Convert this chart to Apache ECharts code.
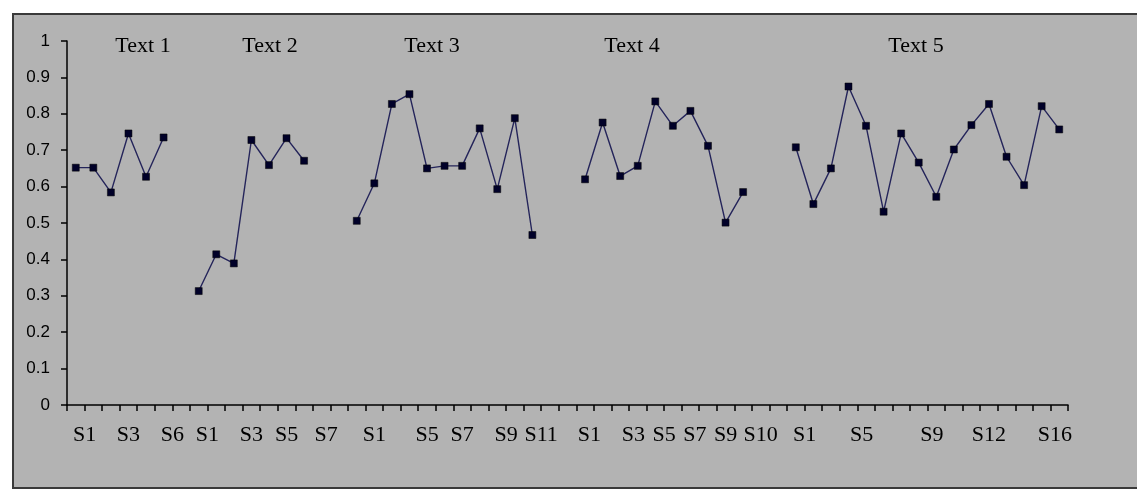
<!DOCTYPE html>
<html>
<head>
<meta charset="utf-8">
<script src="https://cdn.jsdelivr.net/npm/echarts@6/dist/echarts.min.js"></script>
<style>
  html, body { margin: 0; padding: 0; background: #ffffff; }
  #wrap { position: relative; width: 1137px; height: 491px; overflow: hidden; }
  #frame { position: absolute; left: 12px; top: 13px; width: 1124px; height: 472px;
           background: #b3b3b3; border-top: 2px solid #3a3a3a; border-left: 2px solid #3a3a3a;
           border-bottom: 2px solid #3a3a3a; }
  #chart { position: absolute; left: 0; top: 0; width: 1137px; height: 491px; }
</style>
</head>
<body>
<div id="wrap">
  <div id="frame"></div>
  <div id="chart"></div>
</div>
<script>
// ---- data ----
const groupTitles = ['Text 1', 'Text 2', 'Text 3', 'Text 4', 'Text 5'];
const text1 = [0.652, 0.652, 0.584, 0.746, 0.627, 0.735];
const text2 = [0.313, 0.414, 0.389, 0.728, 0.659, 0.733, 0.671];
const text3 = [0.506, 0.609, 0.827, 0.854, 0.650, 0.657, 0.657, 0.760, 0.593, 0.788, 0.467];
const text4 = [0.620, 0.776, 0.629, 0.657, 0.834, 0.767, 0.808, 0.712, 0.501, 0.585];
const text5 = [0.708, 0.552, 0.650, 0.875, 0.767, 0.531, 0.746, 0.666, 0.572, 0.702, 0.769, 0.827, 0.682, 0.604, 0.821, 0.757];
const blankAfter = [1, 2, 2, 2, 0];          // empty categories after each group
// x tick labels as printed, and where they sit along the category axis (in category units)
const tickLabels   = ['S1','S3','S6','S1','S3','S5','S7','S1','S5','S7','S9','S11','S1','S3','S5','S7','S9','S10','S1','S5','S9','S12','S16'];
const tickLabelAt  = [1.0, 3.5, 6.0, 8.0, 10.5, 12.5, 14.75, 17.5, 20.5, 22.5, 25.0, 27.0, 29.75, 32.25, 34.0, 35.75, 37.5, 39.5, 42.0, 45.25, 49.25, 52.5, 56.25];
const yTicks = [0, 0.1, 0.2, 0.3, 0.4, 0.5, 0.6, 0.7, 0.8, 0.9, 1];

// ---- build categories / values ----
const groups = [text1, text2, text3, text4, text5];
const categories = [];
const values = [];
groups.forEach((g, gi) => {
  g.forEach((v, i) => { categories.push('S' + (i + 1)); values.push(v); });
  for (let k = 0; k < blankAfter[gi]; k++) { categories.push(''); values.push(null); }
});
const nCat = categories.length;
const labelMap = {};
tickLabelAt.forEach((p, i) => { labelMap[Math.round(p * 4)] = tickLabels[i]; });

const chart = echarts.init(document.getElementById('chart'), null, { renderer: 'canvas' });
const titlePx = [143, 270, 432, 632, 916];

const option = {
  animation: false,
  backgroundColor: 'transparent',
  grid: { left: 67, right: 69, top: 41, bottom: 86, containLabel: false },
  xAxis: [
    {
      type: 'category',
      data: categories,
      boundaryGap: true,
      axisLine: { show: true, lineStyle: { color: '#000', width: 1.5 } },
      axisTick: { show: true, interval: 0, length: 6, inside: false, lineStyle: { color: '#000', width: 1.5 } },
      axisLabel: { show: false },
      splitLine: { show: false }
    },
    {
      type: 'value',
      position: 'bottom',
      min: 0, max: nCat,
      interval: 0.25,
      axisLine: { show: false },
      axisTick: { show: false },
      splitLine: { show: false },
      axisLabel: {
        show: true,
        margin: 19,
        showMinLabel: true, showMaxLabel: true,
        hideOverlap: false,
        color: '#000',
        fontFamily: '"Liberation Serif", "Times New Roman", serif',
        fontSize: 22,
        formatter: function (v) { const k = Math.round(v * 4); return labelMap[k] || ''; }
      }
    }
  ],
  yAxis: {
    type: 'value',
    min: 0, max: 1, interval: 0.1,
    axisLine: { show: true, lineStyle: { color: '#000', width: 1.5 } },
    axisTick: { show: true, length: 6, lineStyle: { color: '#000', width: 1.5 } },
    splitLine: { show: false },
    axisLabel: {
      margin: 17,
      color: '#000',
      fontFamily: '"Liberation Sans", Arial, sans-serif',
      fontSize: 17,
      formatter: function (v) { return String(Math.round(v * 10) / 10); }
    }
  },
  graphic: groupTitles.map((t, i) => ({
    type: 'text',
    style: {
      text: t,
      x: titlePx[i], y: 46,
      fill: '#000',
      font: '22px "Liberation Serif", "Times New Roman", serif',
      textAlign: 'center', textVerticalAlign: 'middle'
    }
  })),
  series: [
    {
      type: 'line',
      xAxisIndex: 0,
      data: values,
      connectNulls: false,
      symbol: 'rect',
      symbolSize: 7,
      showAllSymbol: true,
      lineStyle: { color: '#24245a', width: 1.4 },
      itemStyle: { color: '#000028', borderColor: '#000', borderWidth: 0.5 }
    }
  ]
};
chart.setOption(option);
</script>
</body>
</html>
